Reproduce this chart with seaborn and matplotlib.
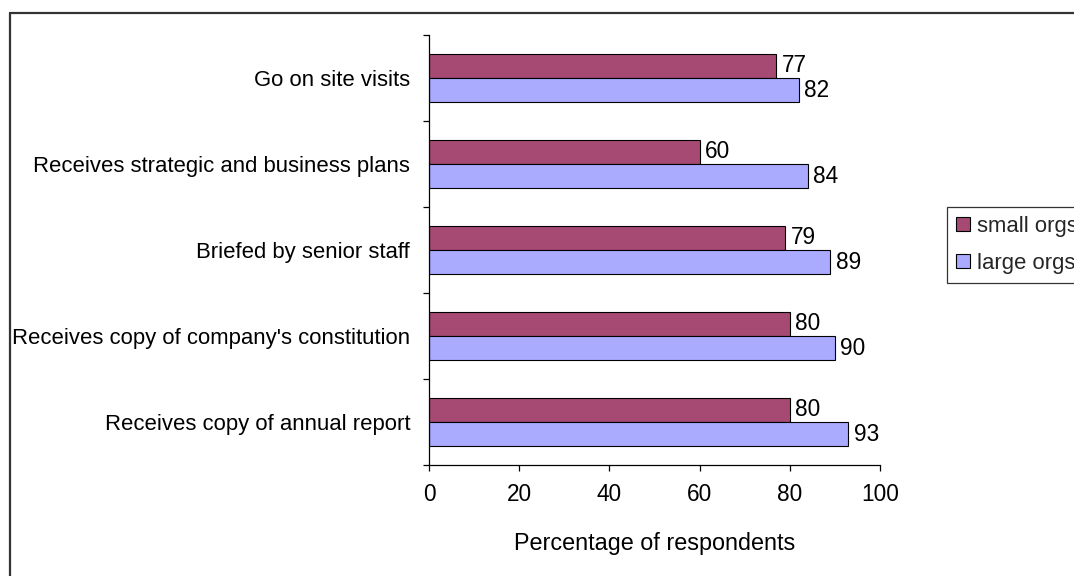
import matplotlib
matplotlib.use("Agg")
import matplotlib.pyplot as plt
from matplotlib.patches import Patch
from matplotlib.lines import Line2D
import seaborn as sns
import pandas as pd

categories = [
    "Go on site visits",
    "Receives strategic and business plans",
    "Briefed by senior staff",
    "Receives copy of company's constitution",
    "Receives copy of annual report",
]
small_orgs = [77, 60, 79, 80, 80]
large_orgs = [82, 84, 89, 90, 93]
series_names = ["small orgs", "large orgs"]
x_ticks = [0, 20, 40, 60, 80, 100]
colors = {"small orgs": "#A64A74", "large orgs": "#AAAAFF"}

df = pd.DataFrame({
    "category": categories * 2,
    "value": small_orgs + large_orgs,
    "series": [series_names[0]] * len(categories) + [series_names[1]] * len(categories),
})

sns.set_theme(style="white")
plt.rcParams["font.family"] = ["Liberation Sans", "DejaVu Sans"]

FS = 15.9

fig = plt.figure(figsize=(10.74, 5.76), dpi=100)
ax = fig.add_axes([429 / 1074, 1 - 465 / 576, (880 - 429) / 1074, (465 - 35) / 576])

sns.barplot(
    data=df, x="value", y="category", hue="series", order=categories,
    hue_order=series_names, palette=colors, orient="h", width=0.56,
    edgecolor="black", linewidth=0.8, saturation=1, legend=False, ax=ax,
)

for cont in ax.containers:
    ax.bar_label(cont, fmt="%d", padding=4, fontsize=16.3, color="black")

ax.set_xlim(0, 100)
ax.set_ylim(len(categories) - 0.5, -0.5)
ax.set_xticks(x_ticks)
ax.set_xticklabels([str(t) for t in x_ticks])
ax.set_yticks(range(len(categories)))
ax.set_yticklabels(categories)
ax.set_yticks([i - 0.5 for i in range(len(categories) + 1)], minor=True)
ax.tick_params(axis="y", which="major", length=0, pad=13.5, labelsize=FS, colors="black")
ax.tick_params(axis="y", which="minor", left=True, length=4, width=0.9, direction="out", color="black")
ax.tick_params(axis="x", which="major", bottom=True, length=4, width=0.9, direction="out",
               pad=9, labelsize=16.3, colors="black")
ax.set_xlabel("Percentage of respondents", fontsize=16.8, labelpad=19, color="black")
ax.set_ylabel("")

for side in ["top", "right"]:
    ax.spines[side].set_visible(False)
for side in ["left", "bottom"]:
    ax.spines[side].set_color("black")
    ax.spines[side].set_linewidth(0.9)

handles = [Patch(facecolor=colors[n], edgecolor="black", linewidth=0.8) for n in series_names]
leg = fig.legend(
    handles, series_names, loc="upper left",
    bbox_to_anchor=(947 / 1074, 1 - 207 / 576), fontsize=FS,
    frameon=True, fancybox=False, shadow=False, borderpad=0.4,
    handlelength=0.65, handleheight=0.65, handletextpad=0.3, labelspacing=0.72,
    borderaxespad=0,
)
leg.get_frame().set_edgecolor("black")
leg.get_frame().set_linewidth(0.9)

# outer frame: left and top edges of the chart area
fig.add_artist(Line2D([9.5 / 1074, 9.5 / 1074], [0, 1 - 12.5 / 576], color="#333333", linewidth=1.6))
fig.add_artist(Line2D([9.5 / 1074, 1], [1 - 12.5 / 576, 1 - 12.5 / 576], color="#333333", linewidth=1.6))

fig.savefig("out.png", dpi=100, facecolor="white")
